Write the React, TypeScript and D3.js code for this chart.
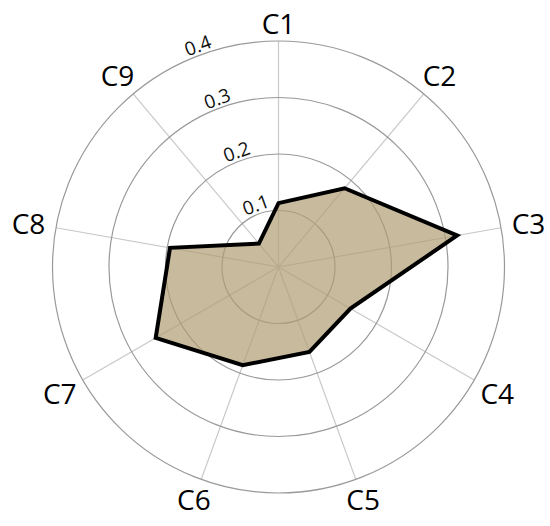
import React, { useRef, useEffect } from 'react';
import * as d3 from 'd3';

// chart data
const categories = ['C1', 'C2', 'C3', 'C4', 'C5', 'C6', 'C7', 'C8', 'C9'];
const values = [0.113, 0.182, 0.321, 0.147, 0.16, 0.185, 0.251, 0.195, 0.054];
const ringTicks = [0.1, 0.2, 0.3, 0.4];
const tickLabels = ['0.1', '0.2', '0.3', '0.4'];

const RadarChart = ({ width = 550, height = 526 }) => {
  const svgRef = useRef<SVGSVGElement>(null);

  useEffect(() => {
    const svg = d3.select(svgRef.current);
    svg.selectAll('*').remove();

    const cx = 278.5;
    const cy = 267;
    const outer = 226;

    const rScale = d3.scaleLinear().domain([0, 0.4]).range([0, outer]);
    const angle = d3
      .scaleLinear()
      .domain([0, categories.length])
      .range([0, 2 * Math.PI]);

    const g = svg.append('g').attr('transform', `translate(${cx},${cy})`);

    // spokes
    g.selectAll('line.spoke')
      .data(categories)
      .enter()
      .append('line')
      .attr('class', 'spoke')
      .attr('x1', 0)
      .attr('y1', 0)
      .attr('x2', (d, i) => outer * Math.sin(angle(i)))
      .attr('y2', (d, i) => -outer * Math.cos(angle(i)))
      .attr('stroke', '#c8c8c8')
      .attr('stroke-width', 1.2);

    // rings
    g.selectAll('circle.ring')
      .data(ringTicks)
      .enter()
      .append('circle')
      .attr('class', 'ring')
      .attr('r', d => rScale(d))
      .attr('fill', 'none')
      .attr('stroke', '#999')
      .attr('stroke-width', 1.2);

    // data polygon
    const line = d3
      .lineRadial<number>()
      .angle((d, i) => angle(i))
      .radius(d => rScale(d))
      .curve(d3.curveLinearClosed);

    g.append('path')
      .attr('d', line(values))
      .attr('fill', '#b09c74')
      .attr('fill-opacity', 0.7)
      .attr('stroke', '#000')
      .attr('stroke-width', 4)
      .attr('stroke-linejoin', 'miter');

    // ring labels, rotated along the circle
    const tickAngle = -20;
    g.selectAll('text.tick')
      .data(ringTicks)
      .enter()
      .append('text')
      .attr('class', 'tick')
      .attr('transform', d => {
        const r = rScale(d) + 10;
        const a = (tickAngle * Math.PI) / 180;
        return `translate(${r * Math.sin(a)},${-r * Math.cos(a)}) rotate(${tickAngle})`;
      })
      .attr('text-anchor', 'middle')
      .attr('dominant-baseline', 'central')
      .attr('font-family', '"Open Sans", sans-serif')
      .attr('font-size', '19px')
      .attr('fill', '#111')
      .text((d, i) => tickLabels[i]);

    // category labels
    g.selectAll('text.cat')
      .data(categories)
      .enter()
      .append('text')
      .attr('class', 'cat')
      .attr('x', (d, i) => {
        const r = 244 + 10 * Math.abs(Math.sin(angle(i)));
        return r * Math.sin(angle(i));
      })
      .attr('y', (d, i) => {
        const r = 244 + 10 * Math.abs(Math.sin(angle(i)));
        return -r * Math.cos(angle(i));
      })
      .attr('text-anchor', 'middle')
      .attr('dominant-baseline', 'central')
      .attr('font-family', '"Open Sans", sans-serif')
      .attr('font-size', '28px')
      .attr('fill', '#000')
      .text(d => d);
  }, [width, height]);

  return <svg ref={svgRef} width={width} height={height} style={{ display: 'block' }}></svg>;
};

export default function App() {
  return (
    <div>
      <style>{'body { margin: 0; background: #fff; }'}</style>
      <RadarChart />
    </div>
  );
}
